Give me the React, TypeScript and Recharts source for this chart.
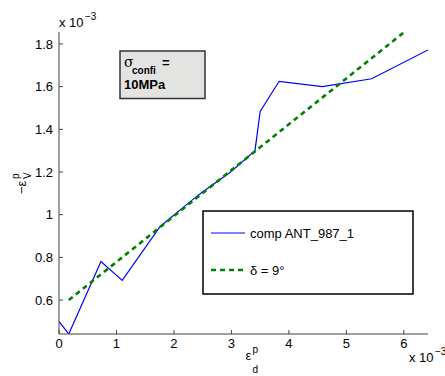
import { LineChart, Line, XAxis, YAxis, Label } from 'recharts'

// values are in units of 1e-3 (see the "x 10^-3" multipliers)
const compX = [0, 0.17, 0.73, 1.1, 1.76, 2.31, 2.49, 2.98, 3.41, 3.5, 3.83, 4.58, 5.44, 6.42]
const compY = [0.5, 0.441, 0.781, 0.692, 0.945, 1.067, 1.105, 1.199, 1.3, 1.484, 1.625, 1.6, 1.637, 1.772]
const fitX = [0.17, 6.01]
const fitY = [0.6, 1.856]

const xTicks = [0, 1, 2, 3, 4, 5, 6]
const yTicks = [0.6, 0.8, 1, 1.2, 1.4, 1.6, 1.8]

const compData = compX.map((x, i) => ({ x, y: compY[i] }))
const fitData = fitX.map((x, i) => ({ x, y: fitY[i] }))

const series = [
  { name: 'comp ANT_987_1', data: compData, stroke: '#0000ff', width: 1.2, dash: undefined },
  { name: 'δ = 9°', data: fitData, stroke: '#008000', width: 2.6, dash: '5 4' },
]

const font = 'Liberation Sans, Arial, Helvetica, sans-serif'
const axisColor = '#444'

function XLabel({ viewBox }: any) {
  const cx = viewBox.x + viewBox.width / 2
  return (
    <g fontFamily={font} fill="#000">
      <text x={cx + 2} y={360} fontSize={13}>ε</text>
      <text x={cx + 9} y={353} fontSize={10}>p</text>
      <text x={cx + 9} y={373} fontSize={10}>d</text>
    </g>
  )
}

function YLabel({ viewBox }: any) {
  const cy = viewBox.y + viewBox.height / 2
  return (
    <g fontFamily={font} fill="#000" transform={`translate(26, ${cy}) rotate(-90)`}>
      <text x={-11} y={0} fontSize={13}>−ε</text>
      <text x={4} y={-7} fontSize={10}>p</text>
      <text x={4} y={5} fontSize={10}>V</text>
    </g>
  )
}

export default function App() {
  return (
    <div style={{ position: 'absolute', left: 0, top: 0, width: 445, height: 376, background: '#fff' }}>
      <LineChart width={445} height={376} margin={{ top: 32, right: 17, bottom: 0, left: 0 }}>
        <XAxis
          type="number"
          dataKey="x"
          domain={[0, 6.42]}
          ticks={xTicks}
          allowDataOverflow
          height={42}
          stroke={axisColor}
          tickSize={-4}
          tickMargin={9}
          tick={{ fill: '#000', fontSize: 13, fontFamily: font }}
        >
          <Label content={<XLabel />} />
        </XAxis>
        <YAxis
          type="number"
          dataKey="y"
          domain={[0.441, 1.856]}
          ticks={yTicks}
          allowDataOverflow
          width={59}
          stroke={axisColor}
          tickSize={-4}
          tickMargin={10}
          tickFormatter={(v) => String(v)}
          tick={{ fill: '#000', fontSize: 13, fontFamily: font }}
        >
          <Label content={<YLabel />} />
        </YAxis>
        {series.map(s => (
          <Line
            key={s.name}
            data={s.data}
            dataKey="y"
            name={s.name}
            stroke={s.stroke}
            strokeWidth={s.width}
            strokeDasharray={s.dash}
            dot={false}
            activeDot={false}
            isAnimationActive={false}
          />
        ))}
      </LineChart>

      {/* multipliers, annotation box and legend drawn on top */}
      <svg width={445} height={376} style={{ position: 'absolute', left: 0, top: 0, pointerEvents: 'none' }} fontFamily={font}>
        <text x={59} y={27} fontSize={13}>x 10</text>
        <text x={85} y={20} fontSize={10}>−3</text>
        <text x={409} y={362} fontSize={13}>x 10</text>
        <text x={435} y={355} fontSize={10}>−3</text>

        <rect x={120} y={51} width={85} height={47.5} fill="#e3e4e2" stroke="#333" strokeWidth={1.5} />
        <text x={124} y={67} fontSize={14} fontFamily="DejaVu Serif, serif">σ</text>
        <text x={132} y={74} fontSize={10} fontWeight="bold">confi</text>
        <text x={162} y={67} fontSize={13} fontWeight="bold">=</text>
        <text x={124} y={89} fontSize={13} fontWeight="bold">10MPa</text>

        <rect x={203} y={211} width={210} height={83} fill="#fff" stroke="#000" strokeWidth={1.5} />
        {series.map((s, i) => (
          <g key={s.name}>
            <line x1={211} x2={245} y1={233 + i * 37} y2={233 + i * 37} stroke={s.stroke} strokeWidth={s.width} strokeDasharray={s.dash} />
            <text x={250} y={238 + i * 37} fontSize={13}>{s.name}</text>
          </g>
        ))}
      </svg>
    </div>
  )
}
